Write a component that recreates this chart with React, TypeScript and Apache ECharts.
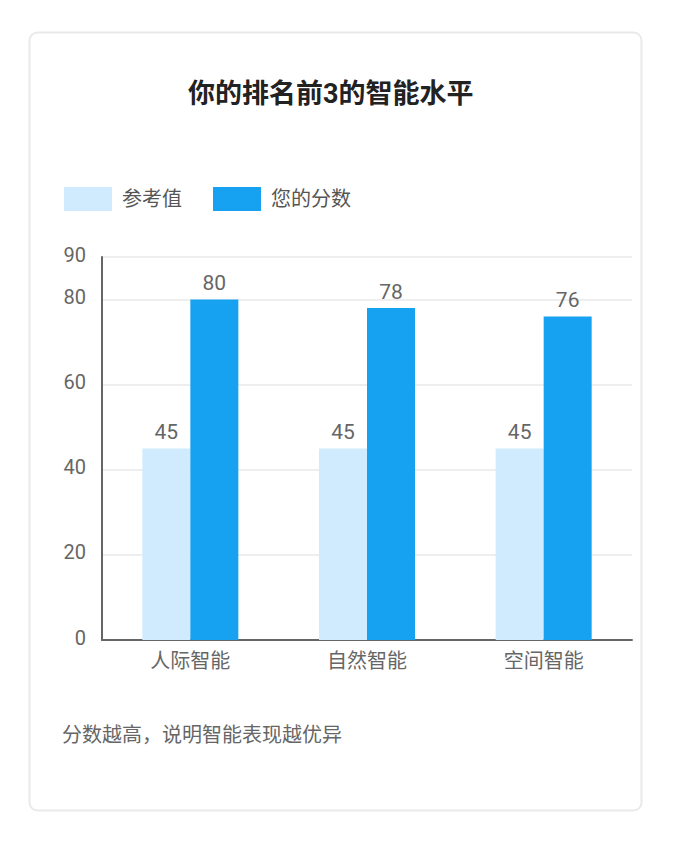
import React, { useEffect, useRef } from "react";
import * as echarts from "echarts";

const categories = ["人际智能", "自然智能", "空间智能"];
const referenceValues = [45, 45, 45];
const yourScores = [80, 78, 76];
const seriesNames = ["参考值", "您的分数"];
const titleText = "你的排名前3的智能水平";
const footerText = "分数越高，说明智能表现越优异";

const FONT = "Roboto, 'Noto Sans CJK SC', sans-serif";

export default function App() {
  const ref = useRef<HTMLDivElement>(null);
  useEffect(() => {
    if (!ref.current) return;
    const chart = echarts.init(ref.current, undefined, { renderer: "svg" });
    chart.setOption({
      animation: false,
      backgroundColor: "#ffffff",
      textStyle: { fontFamily: FONT },
      graphic: [
        {
          type: "rect",
          shape: { x: 29.5, y: 32.5, width: 612, height: 778, r: 8 },
          style: { fill: "#ffffff", stroke: "#e9e9e9", lineWidth: 2 },
          z: -10,
        },
        {
          type: "text",
          x: 62,
          y: 735,
          style: {
            text: footerText,
            fill: "#666666",
            fontSize: 20,
            fontFamily: FONT,
            verticalAlign: "middle",
          },
        },
      ],
      title: {
        text: titleText,
        left: 188,
        top: 80,
        padding: 0,
        textStyle: { fontSize: 27, fontWeight: "bold", color: "#222222", fontFamily: FONT },
      },
      legend: {
        left: 64,
        top: 187,
        padding: 0,
        itemWidth: 48,
        itemHeight: 24,
        itemGap: 31,
        icon: "rect",
        data: seriesNames,
        textStyle: { fontSize: 20, color: "#555555", fontFamily: FONT, padding: [0, 0, 3, 5] },
      },
      grid: { left: 102, right: 42, top: 257, bottom: 211, containLabel: false },
      xAxis: {
        type: "category",
        data: categories,
        axisLine: { lineStyle: { color: "#666666", width: 2 } },
        axisTick: { show: false },
        axisLabel: { fontSize: 20, color: "#666666", margin: 11, fontFamily: FONT },
      },
      yAxis: {
        type: "value",
        min: 0,
        max: 90,
        interval: 20,
        axisLine: { show: true, lineStyle: { color: "#666666", width: 2 } },
        axisTick: { show: false },
        axisLabel: {
          color: "#666666",
          margin: 16,
          formatter: "{v|{value}}",
          rich: {
            v: { fontSize: 20, color: "#666666", fontFamily: FONT, padding: [0, 0, 5, 0] },
          },
        },
        splitLine: { lineStyle: { color: "#e8e8e8", width: 1.5 } },
      },
      series: [
        {
          name: seriesNames[0],
          type: "bar",
          data: referenceValues,
          barWidth: 48,
          barGap: "0%",
          itemStyle: { color: "#d0ebfd" },
          label: { show: true, position: "top", fontSize: 21, color: "#666666", fontFamily: FONT, distance: 6 },
        },
        {
          name: seriesNames[1],
          type: "bar",
          data: yourScores,
          barWidth: 48,
          barGap: "0%",
          itemStyle: { color: "#17a1f1" },
          label: { show: true, position: "top", fontSize: 21, color: "#666666", fontFamily: FONT, distance: 6 },
        },
      ],
    });
    return () => chart.dispose();
  }, []);
  return (
    <div
      ref={ref}
      style={{ position: "absolute", left: 0, top: 0, width: 674, height: 851 }}
    />
  );
}
